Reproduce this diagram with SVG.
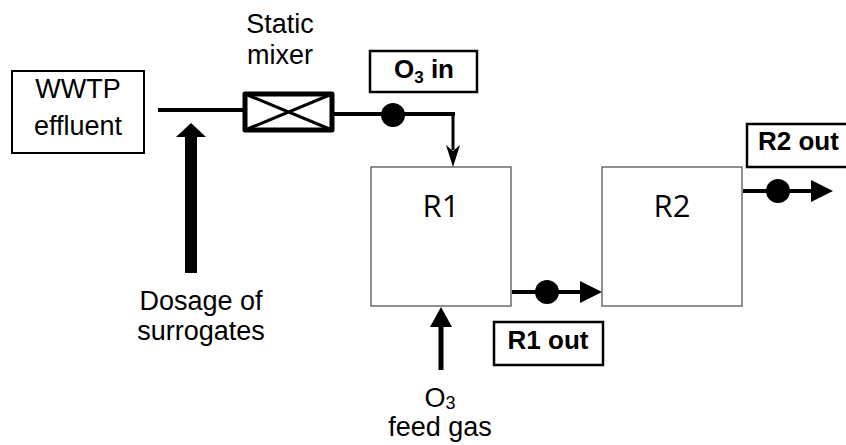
<svg xmlns="http://www.w3.org/2000/svg" width="846" height="445" viewBox="0 0 846 445">
<style>
.t{font-family:"Liberation Sans",Arial,sans-serif;font-size:27px;fill:#000}
.b{font-family:"Liberation Sans",Arial,sans-serif;font-size:26px;font-weight:bold;fill:#000}
.r{font-family:"Open Sans","Noto Sans",sans-serif;font-size:31px;fill:#000}
.box{fill:#fff;stroke:#000;stroke-width:2}
.lbl{fill:#fff;stroke:#000;stroke-width:2.5}
.reac{fill:#fff;stroke:#555;stroke-width:1.3}
.ln{fill:none;stroke:#000;stroke-width:4}
.dot{fill:#000}
</style>
<rect width="846" height="445" fill="#fff"/>
<g id="connectors">
  <path class="ln" d="M158,110 H243"/>
  <path class="ln" d="M334,114 H455" stroke-width="5"/>
  <path fill="none" stroke="#000" stroke-width="3" d="M453,114 V150"/>
  <polygon points="453,167 446,145 453,151 460,145" fill="#000"/>
  <circle class="dot" cx="393" cy="115" r="12"/>
  <rect x="185" y="136" width="12" height="137" fill="#000"/>
  <polygon points="191,123 176,137 206,137" fill="#000"/>
  <rect x="438.5" y="326" width="5" height="44" fill="#000"/>
  <polygon points="441,307 430,327 452,327" fill="#000"/>
  <path class="ln" d="M512,292 H582"/>
  <circle class="dot" cx="547" cy="292" r="12"/>
  <polygon points="580,281 602,292 580,303" fill="#000"/>
  <path class="ln" d="M743,191 H813"/>
  <circle class="dot" cx="778" cy="191" r="12"/>
  <polygon points="811,180 833,191 811,202" fill="#000"/>
</g>
<g id="wwtp">
  <rect class="box" x="12" y="71" width="132" height="82"/>
  <text class="t" x="78" y="98" text-anchor="middle">WWTP</text>
  <text class="t" x="78" y="135" text-anchor="middle">effluent</text>
</g>
<g id="mixer">
  <rect x="245" y="94" width="87" height="36" fill="#fff" stroke="#000" stroke-width="5" stroke-linejoin="round"/>
  <path d="M245,94 L332,130 M245,130 L332,94" stroke="#000" stroke-width="3" fill="none"/>
  <text class="t" x="280" y="33" text-anchor="middle">Static</text>
  <text class="t" x="280" y="64" text-anchor="middle">mixer</text>
</g>
<g id="o3in">
  <rect class="lbl" x="370" y="51" width="107" height="41"/>
  <text class="b" x="424" y="78" text-anchor="middle">O<tspan font-size="17" dy="5">3</tspan><tspan dy="-5"> in</tspan></text>
</g>
<g id="dosage">
  <text class="t" x="201" y="310" text-anchor="middle">Dosage of</text>
  <text class="t" x="201" y="340" text-anchor="middle">surrogates</text>
</g>
<g id="r1">
  <rect class="reac" x="371" y="167" width="140" height="139"/>
  <text class="r" x="441" y="217" text-anchor="middle">R1</text>
</g>
<g id="r2">
  <rect class="reac" x="602" y="167" width="140" height="139"/>
  <text class="r" x="672" y="217" text-anchor="middle">R2</text>
</g>
<g id="r1out">
  <rect class="lbl" x="494" y="322" width="109" height="43"/>
  <text class="b" x="548" y="349" text-anchor="middle">R1 out</text>
</g>
<g id="r2out">
  <rect class="lbl" x="747" y="124" width="120" height="43"/>
  <text class="b" x="758" y="150">R2 out</text>
</g>
<g id="feedgas">
  <text class="t" x="440" y="407" text-anchor="middle">O<tspan font-size="18" dy="2">3</tspan></text>
  <text class="t" x="440" y="436" text-anchor="middle">feed gas</text>
</g>
</svg>
